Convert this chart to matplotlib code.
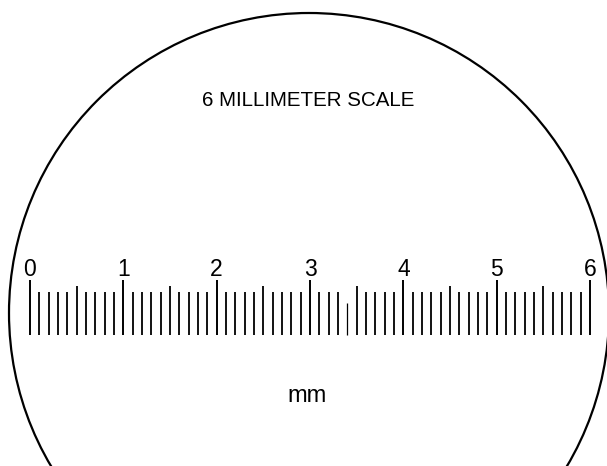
import matplotlib
matplotlib.use("Agg")
import matplotlib.pyplot as plt
from matplotlib.patches import Ellipse

plt.rcParams['font.family'] = ['Liberation Sans', 'DejaVu Sans']

# ---- data ----
title_text = "6 MILLIMETER SCALE"
unit_label = "mm"
major_values = [0, 1, 2, 3, 4, 5, 6]
major_labels = ["0", "1", "2", "3", "4", "5", "6"]
half_values = [0.5, 1.5, 2.5, 3.5, 4.5, 5.5]
minor_values = [round(m + k / 10, 1) for m in range(6) for k in (1, 2, 3, 4, 6, 7, 8, 9)]
short_values = [3.4]  # faint/short tick seen in the reference

# ---- layout (pixel-like vertical units, mm horizontally) ----
W, H = 607, 466
px_per_mm = 93.33
x0_px = 30

fig = plt.figure(figsize=(W / 100, H / 100), dpi=100)
ax = fig.add_axes([0, 0, 1, 1])
ax.set_xlim(-x0_px / px_per_mm, (W - x0_px) / px_per_mm)
ax.set_ylim(H, 0)
ax.axis('off')

bottom = 335
top_major, top_half, top_minor, top_short = 280, 286, 292, 303

ax.vlines(major_values, top_major, bottom, color='black', lw=1.4)
ax.vlines(half_values, top_half, bottom, color='black', lw=1.3)
minor_plain = [v for v in minor_values if v not in short_values]
ax.vlines(minor_plain, top_minor, bottom, color='black', lw=1.3)
ax.vlines(short_values, top_short, bottom, color='black', lw=0.9)

for v, lab in zip(major_values, major_labels):
    ax.text(v, 275.5, lab, ha='center', va='baseline', fontsize=16.5, color='black')

cx_mm = (309 - x0_px) / px_per_mm
r_px = 300
circle = Ellipse((cx_mm, 313), width=2 * r_px / px_per_mm, height=2 * r_px,
                 fill=False, edgecolor='black', lw=1.6)
ax.add_patch(circle)

ax.text((308.5 - x0_px) / px_per_mm, 100, title_text, ha='center', va='center',
        fontsize=14.8, color='black')
ax.text((307 - x0_px) / px_per_mm, 396, unit_label, ha='center', va='center',
        fontsize=17, color='black')

fig.savefig("out.png", dpi=100, facecolor='white')
